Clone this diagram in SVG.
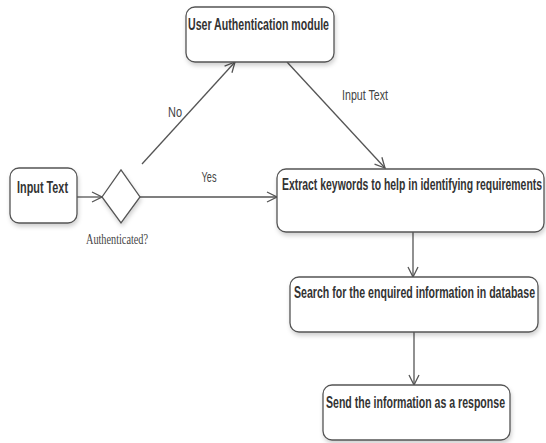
<svg xmlns="http://www.w3.org/2000/svg" width="546" height="443" viewBox="0 0 546 443">
<style>
.box{fill:#fff;stroke:#555;stroke-width:1.3;filter:url(#sh)}
.bt{font-family:"Liberation Sans",Arial,sans-serif;font-weight:bold;font-size:16px;fill:#333;text-anchor:middle;dominant-baseline:central}
.lbl{font-family:"Liberation Sans",Arial,sans-serif;font-size:15px;fill:#444;text-anchor:middle;dominant-baseline:central}
.ser{font-family:"Liberation Serif","Times New Roman",serif;font-size:14px;fill:#444;text-anchor:middle;dominant-baseline:central}
.ln{fill:none;stroke:#555;stroke-width:1.3;marker-end:url(#ar)}
</style>
<defs>
<filter id="sh" x="-10%" y="-10%" width="130%" height="140%">
<feDropShadow dx="1" dy="3" stdDeviation="2" flood-color="#000" flood-opacity="0.18"/>
</filter>
<marker id="ar" viewBox="0 0 12 12" refX="11" refY="6" markerWidth="12" markerHeight="12" markerUnits="userSpaceOnUse" orient="auto">
<path d="M1,1 L11,6 L1,11" fill="none" stroke="#555" stroke-width="1.3"/>
</marker>
</defs>
<g id="connectors">
<line class="ln" x1="77" y1="197" x2="102" y2="197"/>
<line class="ln" x1="142" y1="164" x2="235" y2="62"/>
<line class="ln" x1="140" y1="197" x2="277" y2="197"/>
<line class="ln" x1="287" y1="62" x2="385" y2="168"/>
<line class="ln" x1="413" y1="232" x2="413" y2="277"/>
<line class="ln" x1="414" y1="332" x2="414" y2="385"/>
<text class="lbl" transform="translate(175,112) scale(0.75,1)" textLength="18.7" lengthAdjust="spacingAndGlyphs">No</text>
<text class="lbl" transform="translate(209,177) scale(0.75,1)" textLength="20" lengthAdjust="spacingAndGlyphs">Yes</text>
<text class="lbl" transform="translate(365,95) scale(0.75,1)" textLength="61.3" lengthAdjust="spacingAndGlyphs">Input Text</text>
</g>
<g id="user-auth">
<rect class="box" x="186" y="7" width="148" height="55" rx="9"/>
<text class="bt" transform="translate(258.5,25) scale(0.65,1)" textLength="217" lengthAdjust="spacingAndGlyphs">User Authentication module</text>
</g>
<g id="input-text">
<rect class="box" x="10" y="168" width="67" height="55" rx="9"/>
<text class="bt" transform="translate(42.5,188) scale(0.65,1)" textLength="78.5" lengthAdjust="spacingAndGlyphs">Input Text</text>
</g>
<g id="decision">
<polygon class="box" points="102,197 121,170 140,197 121,223"/>
<text class="ser" transform="translate(117,240) scale(0.8,1)" textLength="77.5" lengthAdjust="spacingAndGlyphs">Authenticated?</text>
</g>
<g id="extract">
<rect class="box" x="277" y="169" width="267" height="63" rx="9"/>
<text class="bt" transform="translate(412,185) scale(0.65,1)" textLength="400" lengthAdjust="spacingAndGlyphs">Extract keywords to help in identifying requirements</text>
</g>
<g id="search">
<rect class="box" x="290" y="277" width="248" height="55" rx="9"/>
<text class="bt" transform="translate(414.5,293) scale(0.65,1)" textLength="370.8" lengthAdjust="spacingAndGlyphs">Search for the enquired information in database</text>
</g>
<g id="send">
<rect class="box" x="323" y="385" width="187" height="55" rx="9"/>
<text class="bt" transform="translate(415.5,403) scale(0.65,1)" textLength="275.4" lengthAdjust="spacingAndGlyphs">Send the information as a response</text>
</g>
</svg>
